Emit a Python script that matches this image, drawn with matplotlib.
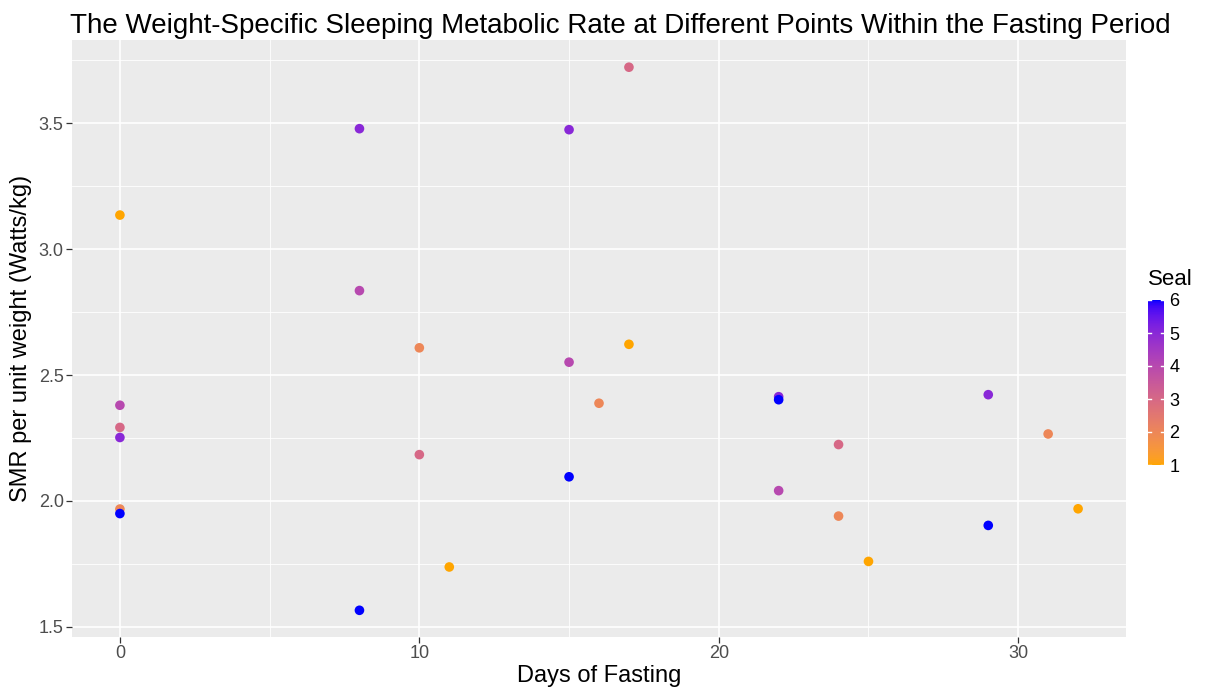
"""Weight-specific sleeping metabolic rate across the fasting period (ggplot-like scatter)."""

import numpy as np
import matplotlib
matplotlib.use("Agg")
import matplotlib.pyplot as plt
from matplotlib.colors import ListedColormap
from matplotlib.ticker import MultipleLocator, FormatStrFormatter

plt.rcParams["font.family"] = ["Liberation Sans", "DejaVu Sans"]

days = [0, 0, 0, 0, 0, 0,
        8, 8, 8,
        10, 10, 11,
        15, 15, 15, 16, 17, 17,
        22, 22, 22, 24, 24, 25,
        29, 29, 31, 32]
smr = [3.135, 1.968, 2.292, 2.380, 2.252, 1.950,
       3.478, 2.835, 1.566,
       2.608, 2.184, 1.738,
       3.474, 2.551, 2.096, 2.388, 3.722, 2.622,
       2.414, 2.402, 2.041, 2.224, 1.940, 1.760,
       2.422, 1.903, 2.266, 1.969]
seal = [1, 2, 3, 4, 5, 6,
        5, 4, 6,
        2, 3, 1,
        5, 4, 6, 2, 3, 1,
        5, 6, 4, 3, 2, 1,
        5, 6, 2, 1]

BG = "#EBEBEB"


def srgb_to_lab(rgb):
    rgb = np.asarray(rgb, float) / 255.0
    lin = np.where(rgb > 0.04045, ((rgb + 0.055) / 1.055) ** 2.4, rgb / 12.92)
    m = np.array([[0.4124, 0.3576, 0.1805],
                  [0.2126, 0.7152, 0.0722],
                  [0.0193, 0.1192, 0.9505]])
    xyz = m @ lin / np.array([0.95047, 1.0, 1.08883])
    f = np.where(xyz > 0.008856, np.cbrt(xyz), 7.787 * xyz + 16 / 116)
    return np.array([116 * f[1] - 16, 500 * (f[0] - f[1]), 200 * (f[1] - f[2])])


def lab_to_srgb(lab):
    L, a, b = lab
    fy = (L + 16) / 116
    f = np.array([fy + a / 500, fy, fy - b / 200])
    xyz = np.where(f ** 3 > 0.008856, f ** 3, (f - 16 / 116) / 7.787)
    xyz = xyz * np.array([0.95047, 1.0, 1.08883])
    minv = np.array([[3.2406, -1.5372, -0.4986],
                     [-0.9689, 1.8758, 0.0415],
                     [0.0557, -0.2040, 1.0570]])
    lin = minv @ xyz
    rgb = np.where(lin > 0.0031308, 1.055 * np.abs(lin) ** (1 / 2.4) - 0.055, 12.92 * lin)
    return np.clip(rgb, 0, 1)


# scale_colour_gradient(low = "orange", high = "blue"), interpolated in Lab
lo, hi = srgb_to_lab([255, 165, 0]), srgb_to_lab([0, 0, 255])
cmap = ListedColormap([lab_to_srgb(lo + t * (hi - lo)) for t in np.linspace(0, 1, 256)])

fig = plt.figure(figsize=(12.05, 6.93), dpi=100)
ax = fig.add_axes([72 / 1205, 1 - 637 / 693, (1126 - 72) / 1205, (637 - 40) / 693])
ax.set_facecolor(BG)

sc = ax.scatter(days, smr, c=seal, cmap=cmap, vmin=1, vmax=6, s=48, zorder=3, linewidths=0)

ax.set_xlim(-1.6, 33.6)
ax.set_ylim(1.46, 3.83)
ax.xaxis.set_major_locator(MultipleLocator(10))
ax.xaxis.set_minor_locator(MultipleLocator(5))
ax.yaxis.set_major_locator(MultipleLocator(0.5))
ax.yaxis.set_minor_locator(MultipleLocator(0.25))
ax.yaxis.set_major_formatter(FormatStrFormatter("%.1f"))
ax.grid(which="major", color="white", lw=1.2, zorder=1)
ax.grid(which="minor", color="white", lw=0.6, zorder=1)
for s in ax.spines.values():
    s.set_visible(False)
ax.tick_params(which="major", length=4, width=0.9, color="#333333", labelsize=13,
               labelcolor="#4D4D4D", pad=2)
ax.tick_params(which="minor", length=0)

ax.set_xlabel("Days of Fasting", fontsize=17, labelpad=2)
ax.set_ylabel("SMR per unit weight (Watts/kg)", fontsize=17, labelpad=5)
ax.set_title("The Weight-Specific Sleeping Metabolic Rate at Different Points Within the Fasting Period",
             fontsize=20, loc="left", x=-0.002, pad=5)

cax = fig.add_axes([1148 / 1205, 1 - 465 / 693, 16 / 1205, 165 / 693])
cb = fig.colorbar(sc, cax=cax, ticks=[1, 2, 3, 4, 5, 6])
cb.outline.set_visible(False)
cax.tick_params(length=0, labelsize=13, pad=4, labelcolor="black")
for v in range(1, 7):
    cax.plot([0, 0.2], [v, v], color="white", lw=1, transform=cax.get_yaxis_transform())
    cax.plot([0.8, 1], [v, v], color="white", lw=1, transform=cax.get_yaxis_transform())
cax.text(0, 1.06, "Seal", transform=cax.transAxes, fontsize=16, ha="left", va="bottom")

fig.savefig("out.png", dpi=100)
